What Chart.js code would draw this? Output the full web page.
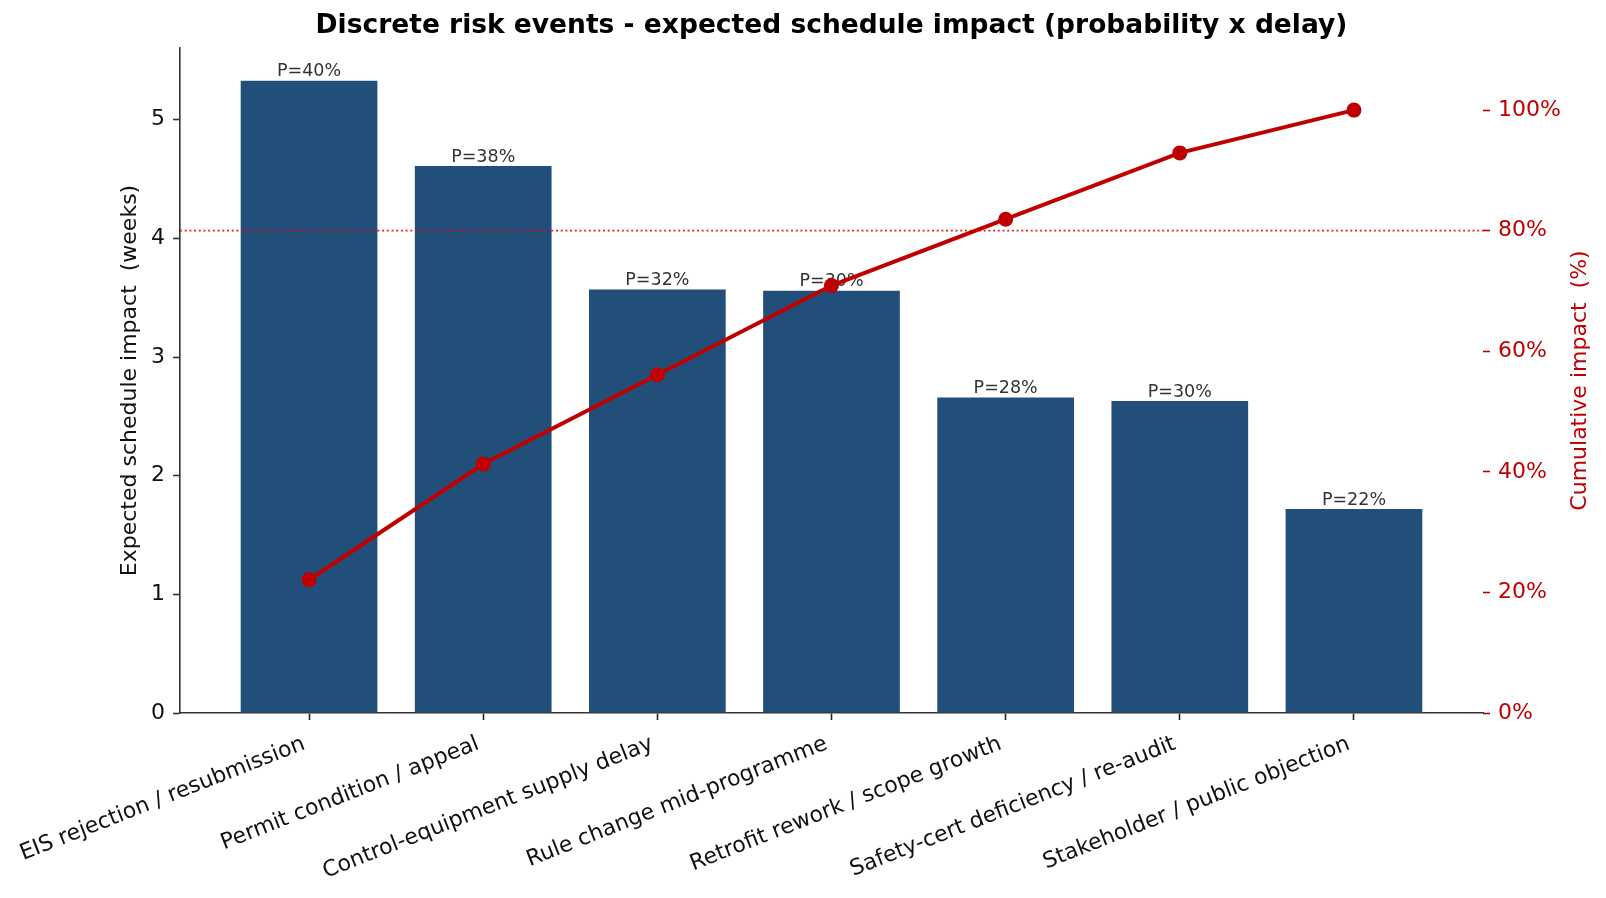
<!DOCTYPE html>
<html>
<head>
<meta charset="utf-8">
<script src="https://cdn.jsdelivr.net/npm/chart.js@4.4.1/dist/chart.umd.min.js"></script>
<style>
html,body{margin:0;padding:0;background:#fff;}
#wrap{width:1606px;height:898px;position:relative;}
</style>
</head>
<body>
<div id="wrap"><canvas id="c"></canvas></div>
<script>
const categories = [
  'EIS rejection / resubmission',
  'Permit condition / appeal',
  'Control-equipment supply delay',
  'Rule change mid-programme',
  'Retrofit rework / scope growth',
  'Safety-cert deficiency / re-audit',
  'Stakeholder / public objection'
];
const expectedWeeks = [5.33, 4.61, 3.57, 3.56, 2.66, 2.63, 1.72];
const probabilityPct = [40, 38, 32, 30, 28, 30, 22];
const cumulativePct = [22.1, 41.3, 56.1, 70.9, 81.9, 92.9, 100];
const leftTicks = [0, 1, 2, 3, 4, 5];
const rightTicks = [0, 20, 40, 60, 80, 100];
const thresholdPct = 80;
const titleText = 'Discrete risk events - expected schedule impact (probability x delay)';
const leftAxisTitle = 'Expected schedule impact  (weeks)';
const rightAxisTitle = 'Cumulative impact  (%)';

const FONT = '"DejaVu Sans"';
const RED = '#c00000';
const BAR = '#214f79';

Chart.defaults.font.family = FONT;

const overlay = {
  id: 'overlay',
  afterDatasetDraw(chart, args) {
    if (args.index !== 0) return;
    const ctx = chart.ctx;
    ctx.save();
    ctx.font = '17.5px ' + FONT;
    ctx.fillStyle = '#333';
    ctx.textAlign = 'center';
    ctx.textBaseline = 'bottom';
    args.meta.data.forEach((bar, i) => {
      ctx.fillText('P=' + probabilityPct[i] + '%', bar.x, bar.y);
    });
    const y = chart.scales.y1.getPixelForValue(thresholdPct);
    const ca = chart.chartArea;
    ctx.strokeStyle = 'rgba(220,0,0,0.85)';
    ctx.lineWidth = 1.7;
    ctx.setLineDash([2, 2.7]);
    ctx.beginPath();
    ctx.moveTo(ca.left, y);
    ctx.lineTo(ca.right, y);
    ctx.stroke();
    ctx.restore();
  },
  afterDraw(chart) {
    const ctx = chart.ctx;
    const s = chart.scales.y1;
    const ca = chart.chartArea;
    ctx.save();
    ctx.translate(s.right - 26, (ca.top + ca.bottom) / 2);
    ctx.rotate(-Math.PI / 2);
    ctx.font = '22px ' + FONT;
    ctx.fillStyle = RED;
    ctx.textAlign = 'center';
    ctx.textBaseline = 'middle';
    ctx.fillText(rightAxisTitle, 0, 0);
    ctx.restore();
  }
};

new Chart(document.getElementById('c'), {
  type: 'bar',
  data: {
    datasets: [
      {
        type: 'bar',
        data: expectedWeeks.map((v, i) => ({ x: i, y: v })),
        backgroundColor: BAR,
        borderWidth: 0,
        barPercentage: 0.785,
        categoryPercentage: 1.0,
        yAxisID: 'y',
        xAxisID: 'x',
        order: 2
      },
      {
        type: 'line',
        data: cumulativePct.map((v, i) => ({ x: i, y: v })),
        borderColor: RED,
        backgroundColor: RED,
        borderWidth: 4,
        pointRadius: 7.5,
        pointBackgroundColor: RED,
        pointBorderWidth: 0,
        tension: 0,
        yAxisID: 'y1',
        xAxisID: 'x',
        order: 1
      }
    ]
  },
  options: {
    responsive: true,
    maintainAspectRatio: false,
    devicePixelRatio: 1,
    animation: false,
    layout: { padding: 0 },
    plugins: {
      legend: { display: false },
      tooltip: { enabled: false },
      title: {
        display: true,
        text: titleText,
        color: '#000',
        fullSize: false,
        font: { family: FONT, size: 26.5, weight: 'bold' },
        padding: { top: 10.1, bottom: 6.1 }
      }
    },
    scales: {
      x: {
        type: 'linear',
        position: 'bottom',
        min: -0.741,
        max: 6.741,
        offset: false,
        afterBuildTicks: s => { s.ticks = categories.map((c, i) => ({ value: i })); },
        afterFit: s => { s.height = 185; s.paddingLeft = 0; s.paddingRight = 0; },
        ticks: {
          autoSkip: false,
          minRotation: 21.5,
          maxRotation: 21.5,
          color: '#111',
          font: { size: 22 },
          padding: 11,
          labelOffset: -5,
          callback: v => categories[v]
        },
        grid: {
          display: true,
          offset: false,
          drawOnChartArea: false,
          drawTicks: true,
          tickLength: 7,
          tickColor: '#222',
          tickWidth: 1.6
        },
        border: { display: true, color: '#333', width: 1.6 }
      },
      y: {
        type: 'linear',
        position: 'left',
        min: 0,
        max: 5.605,
        afterBuildTicks: s => { s.ticks = leftTicks.map(v => ({ value: v })); },
        afterFit: s => { s.width = 180; },
        ticks: { color: '#111', font: { size: 22 }, padding: 8 },
        grid: {
          drawOnChartArea: false,
          drawTicks: true,
          tickLength: 7,
          tickColor: '#333',
          tickWidth: 1.6
        },
        border: { display: true, color: '#333', width: 1.6 },
        title: {
          display: true,
          text: leftAxisTitle,
          color: '#111',
          font: { size: 22 },
          padding: { top: 117, bottom: 0 }
        }
      },
      y1: {
        type: 'linear',
        position: 'right',
        min: 0,
        max: 110.3,
        afterBuildTicks: s => { s.ticks = rightTicks.map(v => ({ value: v })); },
        afterFit: s => { s.width = 123; },
        ticks: { color: RED, font: { size: 22 }, padding: 8, callback: v => v + '%' },
        grid: {
          drawOnChartArea: false,
          drawTicks: true,
          tickLength: 7,
          tickColor: RED,
          tickWidth: 1.6
        },
        border: { display: false }
      }
    }
  },
  plugins: [overlay]
});
</script>
</body>
</html>
